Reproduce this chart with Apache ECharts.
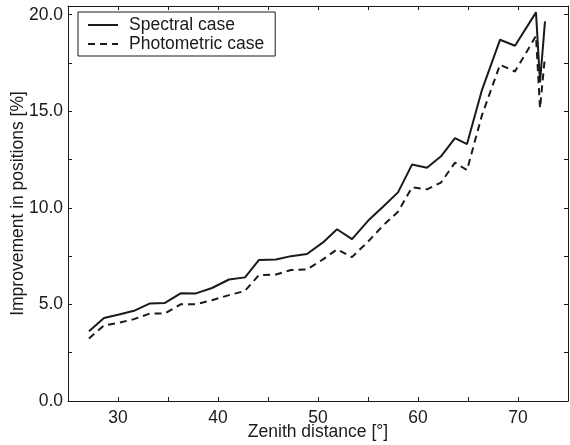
<!DOCTYPE html>
<html>
<head>
<meta charset="utf-8">
<script src="https://cdn.jsdelivr.net/npm/echarts@6/dist/echarts.min.js"></script>
<style>
html,body{margin:0;padding:0;background:#fff;}
#chart{width:570px;height:445px;}
</style>
</head>
<body>
<div id="chart"></div>
<script>
// Zenith distance [deg]
const zenith = [27.1, 28.6, 30.1, 31.6, 33.2, 34.7, 36.3, 37.8, 39.4, 41.1, 42.7, 44.1, 45.8, 47.3, 48.9, 50.5, 51.9, 53.4, 55.0, 56.5, 58.0, 59.4, 60.9, 62.3, 63.7, 64.9, 66.4, 68.2, 69.7, 71.8, 72.2, 72.7];
// Improvement in positions [%]
const spectral = [3.61, 4.30, 4.48, 4.67, 5.05, 5.08, 5.58, 5.57, 5.85, 6.29, 6.40, 7.30, 7.33, 7.50, 7.61, 8.21, 8.89, 8.38, 9.33, 10.06, 10.80, 12.24, 12.08, 12.67, 13.61, 13.30, 16.11, 18.70, 18.39, 20.12, 16.50, 19.65];
const photometric = [3.24, 3.91, 4.05, 4.24, 4.53, 4.53, 5.01, 5.01, 5.22, 5.48, 5.70, 6.52, 6.55, 6.78, 6.81, 7.33, 7.85, 7.45, 8.25, 9.08, 9.80, 11.06, 10.96, 11.31, 12.34, 11.95, 14.80, 17.41, 17.06, 18.90, 15.16, 17.84];
const seriesNames = ['Spectral case', 'Photometric case'];
const xLabels = [30, 40, 50, 60, 70];
const yLabels = [0, 5, 10, 15, 20];

const FONT = '"Liberation Sans", Arial, sans-serif';
const FS = 17.5;
const INK = '#1a1a1a';

const chart = echarts.init(document.getElementById('chart'), null, {renderer: 'canvas'});

const pair = (ys) => zenith.map((x, i) => [x, ys[i]]);

const axisCommon = {
  axisLine: {show: true, onZero: false, lineStyle: {color: INK, width: 1}},
  axisTick: {show: true, inside: true, length: 4, lineStyle: {color: INK, width: 1}},
  splitLine: {show: false}
};

chart.setOption({
  animation: false,
  backgroundColor: '#fff',
  textStyle: {fontFamily: FONT},
  grid: {left: 68, right: 2, top: 6, bottom: 44, containLabel: false, outerBoundsMode: 'none'},
  legend: {
    orient: 'vertical',
    left: 78,
    top: 12,
    data: seriesNames,
    backgroundColor: '#fff',
    borderColor: INK,
    borderWidth: 1,
    borderRadius: 0,
    padding: [4, 11, 3, 9],
    itemGap: 1,
    itemWidth: 30,
    itemHeight: 14,
    itemStyle: {opacity: 0},
    lineStyle: {width: 2},
    textStyle: {fontFamily: FONT, fontSize: FS, color: INK, padding: [0, 0, 0, 6]}
  },
  xAxis: [
    Object.assign({
      type: 'value', position: 'bottom', min: 25, max: 75, interval: 5,
      name: 'Zenith distance [°]', nameLocation: 'middle', nameGap: 22, nameMoveOverlap: false,
      nameTextStyle: {fontFamily: FONT, fontSize: FS, color: INK},
      axisLabel: {
        fontFamily: FONT, fontSize: FS, color: INK, margin: 8,
        showMinLabel: true, showMaxLabel: true,
        formatter: v => xLabels.some(t => Math.abs(t - v) < 1e-6) ? String(v) : ''
      }
    }, axisCommon),
    Object.assign({
      type: 'value', position: 'top', min: 25, max: 75, interval: 5,
      axisLabel: {show: false}
    }, axisCommon)
  ],
  yAxis: [
    Object.assign({
      type: 'value', position: 'left', min: 0, max: 20.45, interval: 2.5,
      name: 'Improvement in positions [%]', nameLocation: 'middle', nameGap: 41, nameMoveOverlap: false,
      nameTextStyle: {fontFamily: FONT, fontSize: FS, color: INK},
      axisLabel: {
        fontFamily: FONT, fontSize: FS, color: INK, margin: 5,
        showMinLabel: true, showMaxLabel: true,
        formatter: v => yLabels.some(t => Math.abs(t - v) < 1e-6) ? v.toFixed(1) : ''
      }
    }, axisCommon),
    Object.assign({
      type: 'value', position: 'right', min: 0, max: 20.45, interval: 2.5,
      axisLabel: {show: false}
    }, axisCommon)
  ],
  series: [
    {
      name: seriesNames[0], type: 'line', data: pair(spectral),
      xAxisIndex: 0, yAxisIndex: 0,
      symbol: 'none', showSymbol: false,
      lineStyle: {color: INK, width: 2, type: 'solid'},
      itemStyle: {color: INK}
    },
    {
      name: seriesNames[1], type: 'line', data: pair(photometric),
      xAxisIndex: 0, yAxisIndex: 0,
      symbol: 'none', showSymbol: false,
      lineStyle: {color: INK, width: 2, type: [7, 5]},
      itemStyle: {color: INK}
    }
  ]
});
</script>
</body>
</html>
